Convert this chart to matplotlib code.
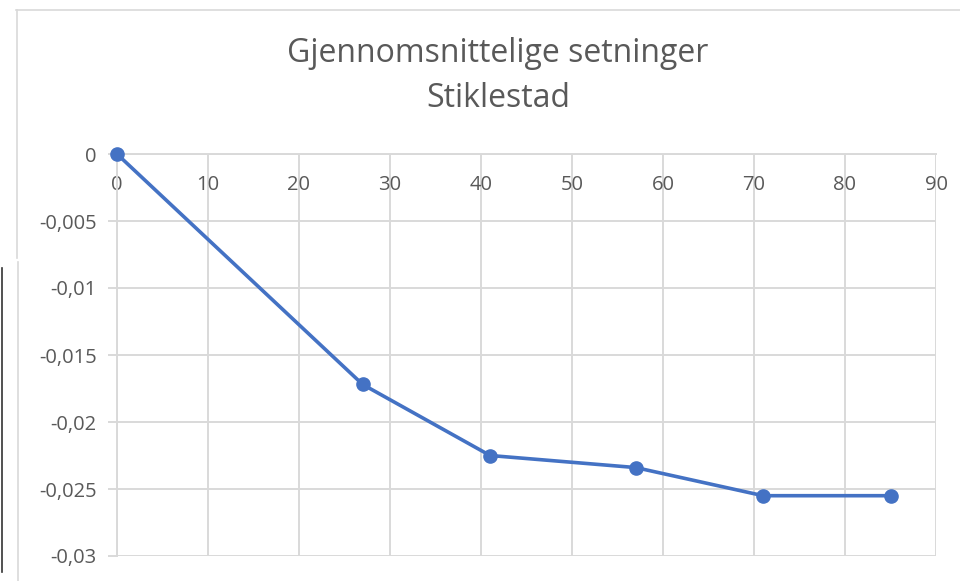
import matplotlib.pyplot as plt
from matplotlib.lines import Line2D
from matplotlib.ticker import FuncFormatter

dager = [0, 27, 41, 57, 71, 85]
setning = [0, -0.0172, -0.0225, -0.0234, -0.0255, -0.0255]
tittel = "Gjennomsnittelige setninger\nStiklestad"

plt.rcParams['font.family'] = ['Open Sans', 'DejaVu Sans']
grey = '#595959'
gridc = '#d9d9d9'

fig = plt.figure(figsize=(9.6, 5.81), dpi=100)
ax = fig.add_axes([117/960, 1 - 556/581, (936 - 117)/960, (556 - 154)/581])

ax.plot(dager, setning, color='#4472C4', lw=2.6, marker='o', ms=9.5, zorder=3,
        solid_capstyle='round', clip_on=False)

ax.set_xlim(0, 90)
ax.set_ylim(-0.03, 0)
ax.set_xticks(range(0, 91, 10))
ax.set_yticks([0, -0.005, -0.01, -0.015, -0.02, -0.025, -0.03])

def komma(v, pos):
    s = ('%g' % v).replace('.', ',')
    return '0' if s in ('-0', '0') else s

ax.yaxis.set_major_formatter(FuncFormatter(komma))
ax.grid(True, color=gridc, lw=1.4, zorder=0)
for s in ax.spines.values():
    s.set_visible(False)
ax.spines['bottom'].set_visible(True)
ax.spines['bottom'].set_position(('data', 0))
ax.spines['bottom'].set_color(gridc)
ax.spines['bottom'].set_linewidth(1.4)
ax.spines['left'].set_visible(True)
ax.spines['left'].set_color(gridc)
ax.spines['left'].set_linewidth(1.4)

ax.tick_params(axis='x', length=0, pad=15, labelsize=14.5, labelcolor=grey)
ax.tick_params(axis='y', length=6.5, width=1.4, color=gridc, pad=8,
               labelsize=14.5, labelcolor=grey)

fig.text(498/960, 1 - 76/581, tittel, ha='center', va='center', fontsize=23,
         color=grey, linespacing=1.45)

# chart border pieces visible in the screenshot
fig.add_artist(Line2D([16/960, 1], [1 - 10/581] * 2, color=gridc, lw=1.2))
fig.add_artist(Line2D([17/960] * 2, [1 - 10/581, 1 - 258/581], color=gridc, lw=1.2))
fig.add_artist(Line2D([18/960] * 2, [1 - 262/581, 0], color=gridc, lw=1.2))
fig.add_artist(Line2D([1.5/960] * 2, [1 - 268/581, 1 - 572/581], color='#333333', lw=1.2))

fig.savefig('out.png', dpi=100)
